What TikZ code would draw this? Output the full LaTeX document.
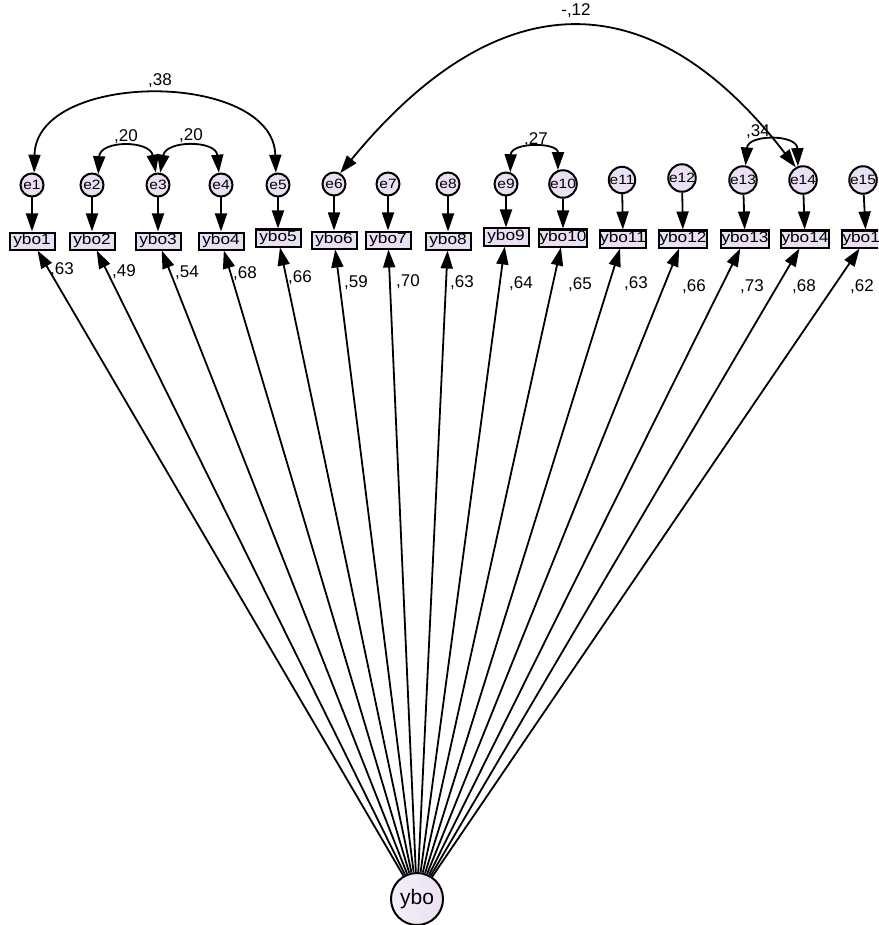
\documentclass[tikz,border=0pt]{standalone}
\usepackage{fontspec}
\setmainfont{Liberation Sans}
\newfontfamily\widefont[FakeStretch=1.15]{Liberation Sans}
\usetikzlibrary{arrows.meta}
\definecolor{lav}{RGB}{234,224,243}
\definecolor{lavlight}{RGB}{244,240,248}
\begin{document}
\begin{tikzpicture}[x=1pt,y=-1pt,
  evar/.style={circle,draw,line width=2pt,fill=lav,minimum size=23pt,inner sep=0pt,font=\widefont\fontsize{13.5}{13.5}\selectfont},
  obs/.style={rectangle,draw,line width=2pt,fill=lav,minimum width=45pt,minimum height=17pt,inner sep=0.5pt,font=\widefont\fontsize{15}{15}\selectfont},
  lat/.style={circle,draw,line width=2pt,left color=lavlight,right color=lav,minimum size=52pt,inner sep=0pt,font=\fontsize{21}{21}\selectfont},
  arr/.style={line width=1.8pt,-{Triangle[length=18pt,width=12pt]}},
  cov/.style={line width=1.8pt,{Triangle[length=18pt,width=12pt]}-{Triangle[length=18pt,width=12pt]}},
  lbl/.style={font=\fontsize{17}{17}\selectfont,inner sep=0pt}
]
\useasboundingbox (0,0) rectangle (878,925);
\clip (0,0) rectangle (878,925);
\fill[white] (0,0) rectangle (878,925);

% error terms
\node[evar] (e1) at (32,185) {e1};
\node[evar] (e2) at (92,185) {e2};
\node[evar] (e3) at (158,185) {e3};
\node[evar] (e4) at (221,185) {e4};
\node[evar] (e5) at (278,185) {e5};
\node[evar] (e6) at (334,184) {e6};
\node[evar] (e7) at (388,184) {e7};
\node[evar] (e8) at (448,184) {e8};
\node[evar] (e9) at (506,184) {e9};
\node[evar] (e10) at (563,184) {e10};
\node[evar] (e11) at (622,180) {e11};
\node[evar] (e12) at (682,178) {e12};
\node[evar] (e13) at (743,180) {e13};
\node[evar] (e14) at (803,180) {e14};
\node[evar] (e15) at (863,180) {e15};

% observed
\node[obs] (y1) at (32,241) {ybo1};
\node[obs] (y2) at (92,241) {ybo2};
\node[obs] (y3) at (158,241) {ybo3};
\node[obs] (y4) at (221,241) {ybo4};
\node[obs] (y5) at (278,238) {ybo5};
\node[obs] (y6) at (334,240) {ybo6};
\node[obs] (y7) at (388,240) {ybo7};
\node[obs] (y8) at (448,241) {ybo8};
\node[obs] (y9) at (506,237) {ybo9};
\node[obs] (y10) at (563,238) {ybo10};
\node[obs] (y11) at (623,239) {ybo11};
\node[obs] (y12) at (683,239) {ybo12};
\node[obs] (y13) at (745,239) {ybo13};
\node[obs] (y14) at (805,239) {ybo14};
\node[obs] (y15) at (866,239) {ybo15};

% latent
\node[lat] (ybo) at (417,899) {ybo};

% error arrows
\foreach \i in {1,...,15} {\draw[arr] (e\i) -- (y\i);}
% loadings
\foreach \i in {1,...,15} {\draw[arr] (ybo) -- (y\i);}

% loading labels
\node[lbl] (l1) at (62,270) {,63};
\node[lbl] (l2) at (124,272) {,49};
\node[lbl] (l3) at (187,273) {,54};
\node[lbl] (l4) at (245,274) {,68};
\node[lbl] (l5) at (300,278) {,66};
\node[lbl] (l6) at (356,283) {,59};
\node[lbl] (l7) at (408,282) {,70};
\node[lbl] (l8) at (462,283) {,63};
\node[lbl] (l9) at (521,284) {,64};
\node[lbl] (l10) at (580,285) {,65};
\node[lbl] (l11) at (636,284) {,63};
\node[lbl] (l12) at (694,287) {,66};
\node[lbl] (l13) at (752,287) {,73};
\node[lbl] (l14) at (804,287) {,68};
\node[lbl] (l15) at (862,287) {,62};

% covariances
\draw[cov] (e1.80) .. controls (36,70) and (273,70) .. (e5.100);
\draw[cov] (e2.60) .. controls (100,140) and (150,140) .. (e3.100);
\draw[cov] (e3.80) .. controls (166,140) and (216,140) .. (e4.100);
\draw[cov] (e9.70) .. controls (511,142) and (558,142) .. (e10.110);
\draw[cov] (e13.80) .. controls (748,134) and (797,134) .. (e14.110);
\draw[cov] (e6.60) .. controls (498,-19) and (651,-21) .. (e14.120);

\node[lbl] (c1) at (160,81) {,38};
\node[lbl] (c2) at (126,137) {,20};
\node[lbl] (c3) at (191,136) {,20};
\node[lbl] (c4) at (536,140) {,27};
\node[lbl] (c5) at (758,132) {,34};
\node[lbl] (c6) at (576,11) {-,12};
\end{tikzpicture}
\end{document}
